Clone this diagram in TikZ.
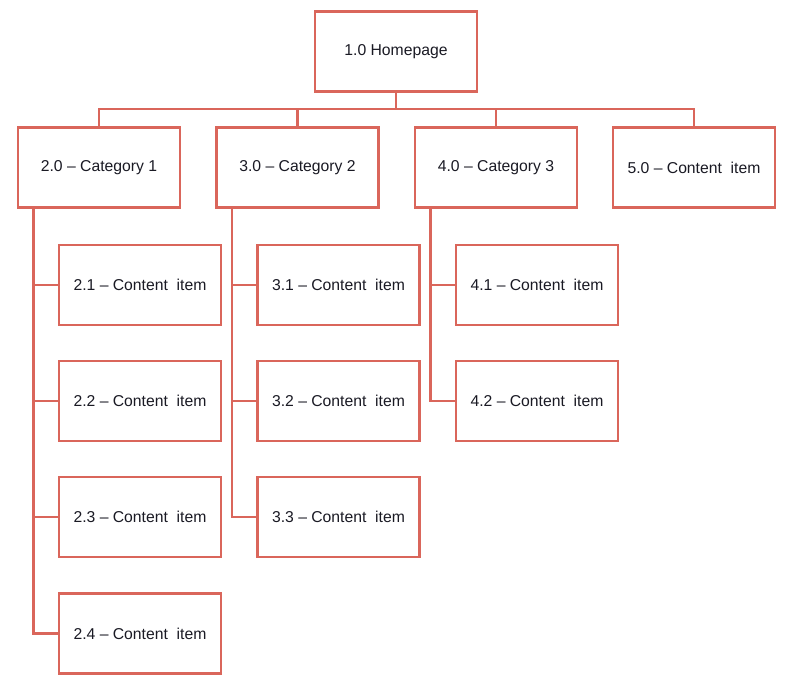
\documentclass[tikz,border=0pt]{standalone}
\usepackage{fontspec}
\setmainfont{Liberation Sans}
\definecolor{boxred}{HTML}{DA665B}
\definecolor{txt}{HTML}{1A1A24}
\begin{document}
\begin{tikzpicture}[x=0.75pt,y=-0.75pt,
  box/.style={draw=boxred,line width=2.2pt,fill=white,minimum width=121.5pt,minimum height=60pt,inner sep=0pt,font=\fontsize{11.8}{14}\selectfont,text=txt},
  conn/.style={draw=boxred,line width=1.6pt}]
\useasboundingbox (0,0) rectangle (788,690);
\node[box] (home) at (396,51.5) {1.0 Homepage};
\node[box] (c1) at (99,167.5) {2.0 -- Category 1};
\node[box] (c2) at (297.5,167.5) {3.0 -- Category 2};
\node[box] (c3) at (496,167.5) {4.0 -- Category 3};
\node[box] (c5) at (694,167.5) {5.0 -- Content\ \ item};
\coordinate (bus) at (396,109);
\draw[conn] (home.south) -- (bus);
\draw[conn] (bus) -| (c1.north);
\draw[conn] (bus) -| (c2.north);
\draw[conn] (bus) -| (c3.north);
\draw[conn] (bus) -| (c5.north);
% children
\foreach \i/\y in {1/285,2/401,3/517,4/633.5}{
  \node[box] (c2\i) at (140,\y) {2.\i\ -- Content\ \ item};
}
\foreach \i/\y in {1/285,2/401,3/517}{
  \node[box] (c3\i) at (338.5,\y) {3.\i\ -- Content\ \ item};
}
\foreach \i/\y in {1/285,2/401}{
  \node[box] (c4\i) at (537,\y) {4.\i\ -- Content\ \ item};
}
\foreach \i in {1,2,3,4}{\draw[conn] (c1.south west) ++(17,0) |- (c2\i.west);}
\foreach \i in {1,2,3}{\draw[conn] (c2.south west) ++(17,0) |- (c3\i.west);}
\foreach \i in {1,2}{\draw[conn] (c3.south west) ++(17,0) |- (c4\i.west);}
\end{tikzpicture}
\end{document}
